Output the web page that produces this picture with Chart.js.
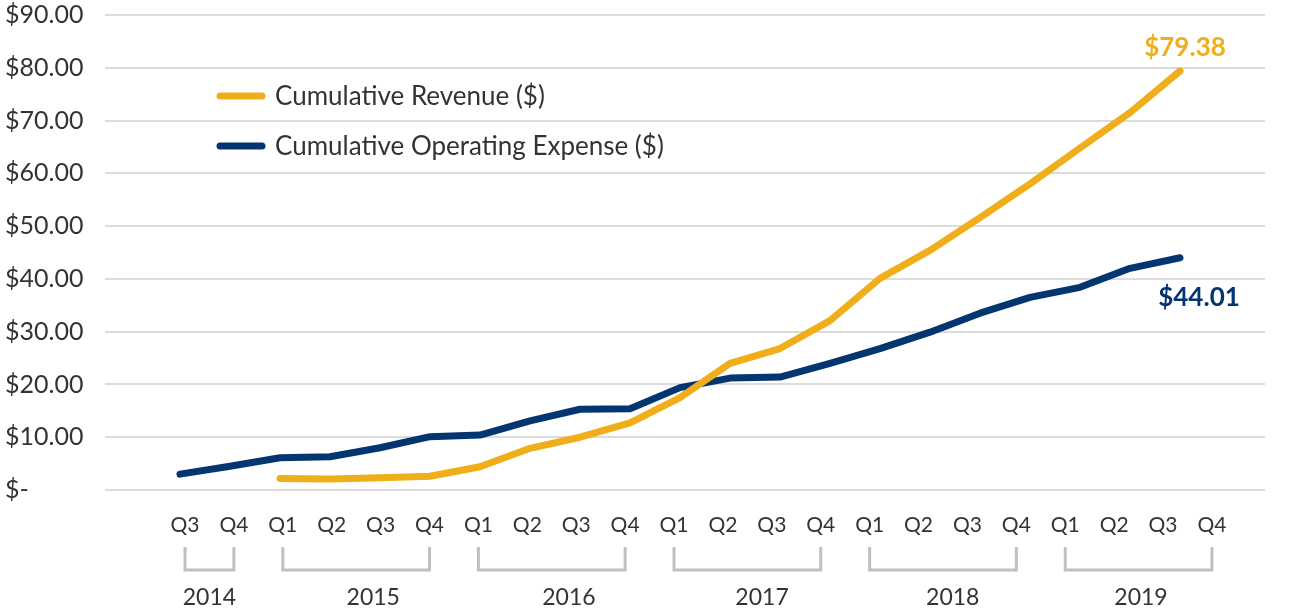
<!DOCTYPE html>
<html>
<head>
<meta charset="utf-8">
<script src="https://cdn.jsdelivr.net/npm/chart.js@4.4.0/dist/chart.umd.min.js"></script>
<style>
    html, body { margin: 0; padding: 0; background: #fff; }
    #wrap { width: 1293px; height: 610px; }
</style>
</head>
<body>
<div id="wrap"><canvas id="cumChart"></canvas></div>
<script>
// quarters, Q3 2014 .. Q4 2019
const quarters = ['Q3', 'Q4',
    'Q1', 'Q2', 'Q3', 'Q4',
    'Q1', 'Q2', 'Q3', 'Q4',
    'Q1', 'Q2', 'Q3', 'Q4',
    'Q1', 'Q2', 'Q3', 'Q4',
    'Q1', 'Q2', 'Q3', 'Q4'];
const years = ['2014', '2015', '2016', '2017', '2018', '2019'];
const yearFirst = [0, 2, 6, 10, 14, 18];   // index of first quarter of each year
const yearLast = [1, 5, 9, 13, 17, 21];    // index of last quarter of each year
const yearTicks = [0.5, 3.85, 7.85, 11.8, 15.7, 19.55]; // where the year labels sit (quarter index units)

const revenue = [null, null, 2.2, 2.1, 2.3, 2.6, 4.4, 7.9, 10.0, 12.7, 17.5, 24.0,
    26.8, 32.1, 40.1, 45.4, 51.6, 58.0, 64.8, 71.5, 79.38, null];
const opex = [3.0, 4.5, 6.1, 6.3, 8.0, 10.1, 10.4, 13.1, 15.3, 15.4, 19.4, 21.2,
    21.4, 24.0, 26.8, 29.9, 33.5, 36.5, 38.4, 42.0, 44.01, null];

const seriesNames = ['Cumulative Revenue ($)', 'Cumulative Operating Expense ($)'];
const GOLD = '#f0ae1a';
const NAVY = '#033670';
const FONT = 'Lato, "Open Sans", sans-serif';

const toPoints = arr => arr.map((v, i) => ({ x: i, y: v })).filter(p => p.y !== null);

// legend drawn inside the plot, upper left
const legendInside = {
    id: 'legendInside',
    afterDraw(chart) {
        const ctx = chart.ctx;
        ctx.save();
        chart.data.datasets.forEach((ds, i) => {
            const y = 96 + i * 50;
            ctx.strokeStyle = ds.borderColor;
            ctx.lineWidth = 7;
            ctx.lineCap = 'round';
            ctx.beginPath();
            ctx.moveTo(220, y);
            ctx.lineTo(262, y);
            ctx.stroke();
            ctx.fillStyle = '#333';
            ctx.font = '26px ' + FONT;
            ctx.textBaseline = 'middle';
            ctx.textAlign = 'left';
            ctx.fillText(ds.label, 275, y + 1);
        });
        ctx.restore();
    }
};

// end value labels
const endLabels = {
    id: 'endLabels',
    afterDatasetsDraw(chart) {
        const ctx = chart.ctx;
        const offs = [[5, -23], [19, 40]];
        ctx.save();
        chart.data.datasets.forEach((ds, i) => {
            const meta = chart.getDatasetMeta(i);
            const pt = meta.data[meta.data.length - 1];
            const val = ds.data[ds.data.length - 1].y;
            ctx.fillStyle = ds.borderColor;
            ctx.font = 'bold 26px ' + FONT;
            ctx.textAlign = 'center';
            ctx.textBaseline = 'middle';
            ctx.fillText('$' + val.toFixed(2), pt.x + offs[i][0], pt.y + offs[i][1]);
        });
        ctx.restore();
    }
};

// year brackets under the quarter labels
const yearBrackets = {
    id: 'yearBrackets',
    afterDraw(chart) {
        const ctx = chart.ctx;
        const xq = chart.scales.xq;
        const top = chart.chartArea.bottom + 57;
        const bot = chart.chartArea.bottom + 80;
        ctx.save();
        ctx.strokeStyle = '#c0c0c0';
        ctx.lineWidth = 3;
        ctx.lineCap = 'butt';
        years.forEach((y, i) => {
            const x1 = xq.getPixelForValue(yearFirst[i]);
            const x2 = xq.getPixelForValue(yearLast[i]);
            ctx.beginPath();
            ctx.moveTo(x1, top);
            ctx.lineTo(x1, bot);
            ctx.lineTo(x2, bot);
            ctx.lineTo(x2, top);
            ctx.stroke();
        });
        ctx.restore();
    }
};

// data x axis: point i sits at 180 + 50*i px; label axes have slightly tighter spacing
const xDataMin = -1.5, xDataMax = 21.7;
const xLabMin = -1.636, xLabMax = 22.085;

new Chart(document.getElementById('cumChart'), {
    type: 'line',
    data: {
        datasets: [
            { label: seriesNames[0], data: toPoints(revenue), borderColor: GOLD, backgroundColor: GOLD },
            { label: seriesNames[1], data: toPoints(opex), borderColor: NAVY, backgroundColor: NAVY }
        ]
    },
    options: {
        responsive: true,
        maintainAspectRatio: false,
        animation: false,
        layout: { padding: { left: 5, right: 28, top: 14, bottom: 0 } },
        elements: {
            line: { borderWidth: 7, tension: 0, borderCapStyle: 'round', borderJoinStyle: 'round' },
            point: { radius: 0, hoverRadius: 0 }
        },
        plugins: { legend: { display: false }, tooltip: { enabled: false } },
        scales: {
            x: { type: 'linear', display: false, min: xDataMin, max: xDataMax },
            xq: {
                type: 'linear', position: 'bottom', weight: 0,
                min: xLabMin, max: xLabMax,
                grid: { display: false, drawTicks: false },
                border: { display: false },
                afterBuildTicks: s => { s.ticks = quarters.map((q, i) => ({ value: i })); },
                afterFit: s => { s.height = 60; },
                ticks: {
                    autoSkip: false, maxRotation: 0, padding: 23,
                    color: '#333', font: { family: FONT, size: 21 },
                    callback: v => quarters[v]
                }
            },
            xy: {
                type: 'linear', position: 'bottom', weight: 1,
                min: xLabMin, max: xLabMax,
                grid: { display: false, drawTicks: false },
                border: { display: false },
                afterBuildTicks: s => { s.ticks = yearTicks.map(v => ({ value: v })); },
                afterFit: s => { s.height = 60; },
                ticks: {
                    autoSkip: false, maxRotation: 0, padding: 34,
                    color: '#333', font: { family: FONT, size: 23 },
                    callback: (v, i) => years[i]
                }
            },
            y: {
                min: 0, max: 90,
                afterFit: s => { s.width = 100; },
                grid: { color: '#dcdcdc', lineWidth: 2, drawTicks: false },
                border: { display: false },
                ticks: {
                    stepSize: 10, padding: 0, crossAlign: 'far',
                    color: '#333', font: { family: FONT, size: 25 },
                    callback: v => v === 0 ? '$-' : '$' + v.toFixed(2)
                }
            }
        }
    },
    plugins: [legendInside, endLabels, yearBrackets]
});
</script>
</body>
</html>
